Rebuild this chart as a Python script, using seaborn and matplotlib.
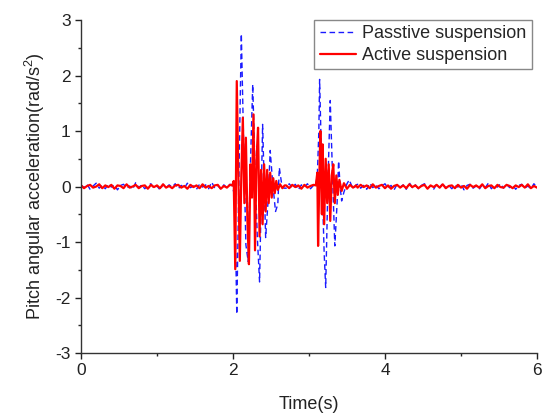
# Pitch angular acceleration: passive vs active suspension
import numpy as np
import pandas as pd
import matplotlib.pyplot as plt
import seaborn as sns

# quiet stretches (rad/s^2)
passive_a = [0.03, -0.02, 0.04, -0.05, 0.01, 0.06, -0.03, 0.02, -0.04, 0.05,
             -0.01, 0.03, -0.06, 0.02, 0.04, -0.03, 0.01, -0.05, 0.07, -0.02,
             0.03, -0.04, 0.02, 0.05, -0.03, 0.01, -0.06, 0.04, -0.02, 0.03,
             -0.01, 0.05, -0.04, 0.02, -0.03, 0.06, -0.02, 0.01, -0.05, 0.04,
             -0.01, 0.03, -0.04, 0.08, -0.03, 0.02, -0.05, 0.03, -0.02, 0.04]
active_a = [0.02, -0.03, 0.01, 0.03, -0.02, 0.00, 0.04, -0.03, 0.02, -0.01,
            0.03, -0.04, 0.02, 0.01, -0.03, 0.04, -0.02, 0.00, 0.03, -0.03,
            0.01, 0.02, -0.04, 0.03, -0.01, 0.02, -0.03, 0.04, -0.02, 0.01,
            -0.03, 0.02, 0.03, -0.02, 0.01, -0.04, 0.03, -0.01, 0.02, -0.03,
            0.04, -0.02, 0.01, -0.03, 0.02, 0.03, -0.04, 0.01, -0.02, 0.03]
passive_b = [-0.03, 0.05, -0.02, 0.04, -0.06, 0.03, -0.01, 0.05, -0.04, 0.02]
active_b = [0.02, -0.03, 0.03, -0.01, 0.02, -0.04, 0.03, -0.02, 0.01, 0.03]
passive_c = [0.04, -0.03, 0.02, -0.05, 0.06, -0.02, 0.03, -0.04, 0.01, 0.05,
             -0.03, 0.02, -0.06, 0.04, -0.01, 0.03, -0.05, 0.07, -0.02, 0.03,
             -0.04, 0.02, 0.05, -0.03, 0.01, -0.05, 0.04, -0.02, 0.06, -0.03,
             0.02, -0.04, 0.03, -0.01, 0.05, -0.06, 0.02, 0.04, -0.03, 0.01,
             -0.05, 0.03, -0.02, 0.06, -0.04, 0.02, -0.01, 0.05, -0.03, 0.04,
             -0.02, 0.03, -0.05, 0.02, 0.04, -0.03, 0.01, -0.04, 0.05, -0.02]
active_c = [-0.02, 0.03, -0.01, 0.02, -0.03, 0.04, -0.02, 0.01, 0.03, -0.03,
            0.02, -0.04, 0.01, 0.03, -0.02, 0.02, -0.03, 0.04, -0.01, 0.02,
            -0.03, 0.01, 0.03, -0.04, 0.02, -0.01, 0.03, -0.02, 0.04, -0.03,
            0.01, 0.02, -0.03, 0.03, -0.02, 0.01, -0.04, 0.03, -0.01, 0.02,
            -0.02, 0.04, -0.03, 0.01, 0.02, -0.03, 0.03, -0.01, -0.02, 0.03,
            0.01, -0.03, 0.02, -0.01, 0.03, -0.02, 0.04, -0.03, 0.01, -0.02]

# first bump (~2.0-2.7 s)
passive_t1 = [1.99, 2.01, 2.03, 2.05, 2.08, 2.11, 2.14, 2.17, 2.20, 2.23, 2.26, 2.29,
              2.32, 2.35, 2.39, 2.43, 2.46, 2.49, 2.52, 2.56, 2.59, 2.61, 2.64, 2.67]
passive_v1 = [0.03, -0.1, -0.6, -2.30, 0.3, 2.75, 0.8, -1.05, -1.35, 0.4, 1.84, 0.3,
              -0.9, -1.72, 1.12, -0.92, -0.3, 0.65, 0.1, -0.45, -0.32, 0.34, 0.05, -0.03]
active_t1 = [1.99, 2.01, 2.03, 2.05, 2.07, 2.09, 2.11, 2.13, 2.15, 2.17, 2.19, 2.21,
             2.23, 2.25, 2.27, 2.29, 2.31, 2.33, 2.35, 2.37, 2.39, 2.41, 2.43, 2.45,
             2.47, 2.49, 2.51, 2.53, 2.55, 2.57, 2.59, 2.62, 2.65, 2.68]
active_v1 = [0.02, 0.1, -1.49, 1.90, 0.3, -1.34, 0.2, 1.24, -0.3, 0.88, -0.6, -1.40,
             0.4, -0.2, 1.30, -1.15, 0.5, 1.06, -0.9, 0.3, -0.68, 0.40, -0.45, 0.3,
             -0.3, 0.25, -0.2, 0.15, -0.12, 0.1, -0.06, 0.04, -0.03, 0.02]

# second bump (~3.1-3.6 s)
passive_t2 = [3.09, 3.11, 3.13, 3.14, 3.17, 3.20, 3.22, 3.25, 3.28, 3.31, 3.34,
              3.37, 3.39, 3.41, 3.43, 3.46, 3.50, 3.53, 3.56, 3.59, 3.62]
passive_v2 = [0.04, 0.2, 1.0, 1.93, 0.2, -1.2, -1.82, 0.1, 1.55, 0.2, -1.07,
              -0.3, 0.46, 0.0, -0.26, -0.1, 0.05, 0.12, 0.02, -0.04, 0.03]
active_t2 = [3.09, 3.11, 3.12, 3.14, 3.15, 3.17, 3.18, 3.20, 3.22, 3.24, 3.26, 3.28,
             3.30, 3.32, 3.34, 3.36, 3.38, 3.40, 3.43, 3.46, 3.50, 3.54, 3.58, 3.62]
active_v2 = [0.02, 0.25, -1.07, 0.4, 1.0, -0.5, 0.76, -0.68, 0.5, -0.3, 0.4, -0.62,
             0.2, 0.40, -0.3, 0.2, -0.15, 0.12, -0.08, 0.06, -0.04, 0.03, -0.02, 0.02]


def build(a, t1, v1, b, t2, v2, c):
    t = np.concatenate([np.linspace(0, 1.96, len(a)), t1,
                        np.linspace(2.70, 3.06, len(b)), t2,
                        np.linspace(3.64, 6.0, len(c))])
    v = np.concatenate([a, v1, b, v2, c])
    return pd.DataFrame({'t': t, 'v': v})


passive = build(passive_a, passive_t1, passive_v1, passive_b, passive_t2, passive_v2, passive_c)
active = build(active_a, active_t1, active_v1, active_b, active_t2, active_v2, active_c)

sns.set_style('ticks')
plt.rcParams['font.family'] = ['Liberation Sans', 'DejaVu Sans']
plt.rcParams['mathtext.fontset'] = 'custom'
plt.rcParams['mathtext.rm'] = 'Liberation Sans'
plt.rcParams['axes.unicode_minus'] = False

fig = plt.figure(figsize=(5.42, 4.19), dpi=100)
ax = fig.add_axes([0.1494, 0.1575, 0.8413, 0.7947])

sns.lineplot(data=passive, x='t', y='v', ax=ax, color='#1a1aff', lw=1.0,
             linestyle=(0, (4, 2.5)), estimator=None, label='Passtive suspension')
sns.lineplot(data=active, x='t', y='v', ax=ax, color='#ff0000', lw=1.6,
             estimator=None, label='Active suspension')

ax.set_xlim(0, 6)
ax.set_ylim(-3, 3)
ax.set_xticks([0, 2, 4, 6])
ax.set_xticks([1, 3, 5], minor=True)
ax.set_yticks(range(-3, 4))
ax.set_yticks(np.arange(-2.5, 3, 1.0), minor=True)
ax.tick_params(which='major', length=4.5, width=1.0, labelsize=12.5, colors='#222222', pad=3)
ax.tick_params(which='minor', length=2.5, width=1.0)
for side in ['top', 'right']:
    ax.spines[side].set_visible(False)
for side in ['left', 'bottom']:
    ax.spines[side].set_color('#333333')
    ax.spines[side].set_linewidth(1.0)

ax.set_xlabel('Time(s)', fontsize=13, labelpad=13, color='#222222')
ax.set_ylabel('Pitch angular acceleration(rad/s$^\\mathregular{2}$)', fontsize=13,
              labelpad=6, color='#222222')

ax.legend(loc='upper right', bbox_to_anchor=(0.9815, 0.9523), bbox_transform=fig.transFigure,
          fontsize=13, frameon=True, fancybox=False, edgecolor='#888888', framealpha=1,
          borderaxespad=0, borderpad=0.3, labelspacing=0.25, handlelength=2.0,
          handletextpad=0.35)

fig.savefig('out.png', dpi=100)
